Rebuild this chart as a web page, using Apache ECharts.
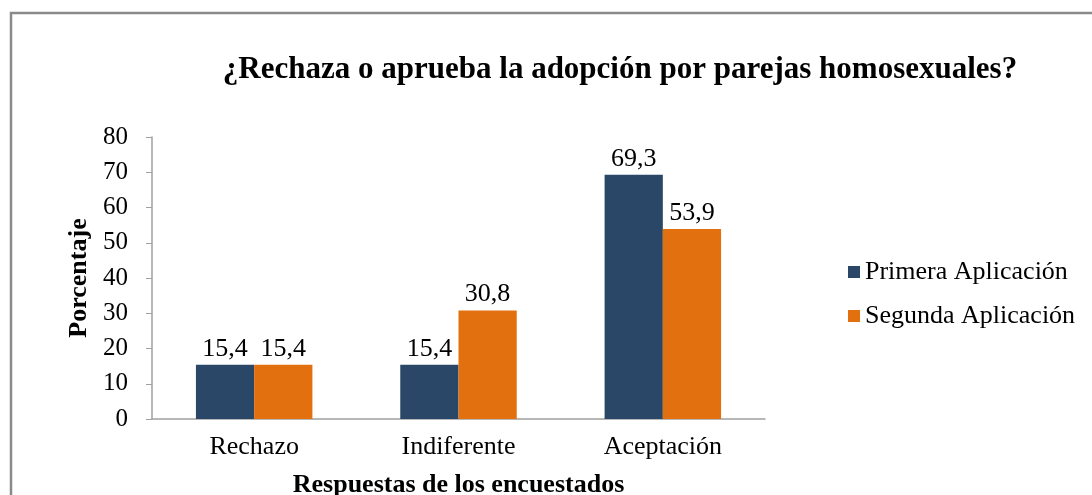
<!DOCTYPE html>
<html>
<head>
<meta charset="utf-8">
<script src="https://cdn.jsdelivr.net/npm/echarts@6/dist/echarts.min.js"></script>
<style>
  html, body { margin: 0; padding: 0; background: #fff; }
  #main { width: 1092px; height: 495px; }
</style>
</head>
<body>
<div id="main"></div>
<script>
const categories = ['Rechazo', 'Indiferente', 'Aceptación']
const seriesNames = ['Primera Aplicación', 'Segunda Aplicación']
const primera = [15.4, 15.4, 69.3]
const segunda = [15.4, 30.8, 53.9]

const serif = '"Liberation Serif", "DejaVu Serif", serif'
const fmt = p => String(p.value).replace('.', ',')

const chart = echarts.init(document.getElementById('main'))
chart.setOption({
  animation: false,
  textStyle: { fontFamily: serif },
  title: {
    text: '¿Rechaza o aprueba la adopción por parejas homosexuales?',
    left: 615,
    textAlign: 'center',
    top: 49,
    textStyle: { fontFamily: serif, fontWeight: 'bold', fontSize: 31, color: '#000' }
  },
  graphic: [{
    type: 'rect',
    shape: { x: 11, y: 13, width: 1200, height: 600 },
    style: { fill: 'none', stroke: '#8a8a8a', lineWidth: 2.5 },
    silent: true
  }],
  legend: {
    orient: 'vertical',
    left: 843,
    top: 254,
    itemWidth: 12,
    itemHeight: 12,
    itemGap: 18,
    icon: 'rect',
    textStyle: { fontFamily: serif, fontSize: 26, color: '#000' },
    data: seriesNames
  },
  grid: { left: 152, right: 327, top: 137, bottom: 76, outerBoundsMode: 'none' },
  xAxis: {
    type: 'category',
    data: categories,
    name: 'Respuestas de los encuestados',
    nameLocation: 'middle',
    nameGap: 53,
    nameTextStyle: { fontFamily: serif, fontWeight: 'bold', fontSize: 26, color: '#000' },
    axisLine: { lineStyle: { color: '#a0a0a0', width: 1.5 } },
    axisTick: { show: false },
    axisLabel: { fontFamily: serif, fontSize: 26, color: '#000', margin: 15 }
  },
  yAxis: {
    type: 'value',
    min: 0,
    max: 80,
    interval: 10,
    name: 'Porcentaje',
    nameLocation: 'middle',
    nameRotate: 90,
    nameGap: 58,
    nameTextStyle: { fontFamily: serif, fontWeight: 'bold', fontSize: 26, color: '#000' },
    axisLine: { show: true, lineStyle: { color: '#a0a0a0', width: 1.5 } },
    axisTick: { show: true, length: 6, lineStyle: { color: '#a0a0a0' } },
    splitLine: { show: false },
    axisLabel: { fontFamily: serif, fontSize: 25, color: '#000', margin: 24 }
  },
  series: [
    {
      name: seriesNames[0],
      type: 'bar',
      data: primera,
      barGap: '0%',
      barCategoryGap: '43%',
      itemStyle: { color: '#2B4767' },
      label: { show: true, position: 'top', distance: 3, formatter: fmt, fontFamily: serif, fontSize: 26, color: '#000' }
    },
    {
      name: seriesNames[1],
      type: 'bar',
      data: segunda,
      itemStyle: { color: '#E3700E' },
      label: { show: true, position: 'top', distance: 3, formatter: fmt, fontFamily: serif, fontSize: 26, color: '#000' }
    }
  ]
})
</script>
</body>
</html>
